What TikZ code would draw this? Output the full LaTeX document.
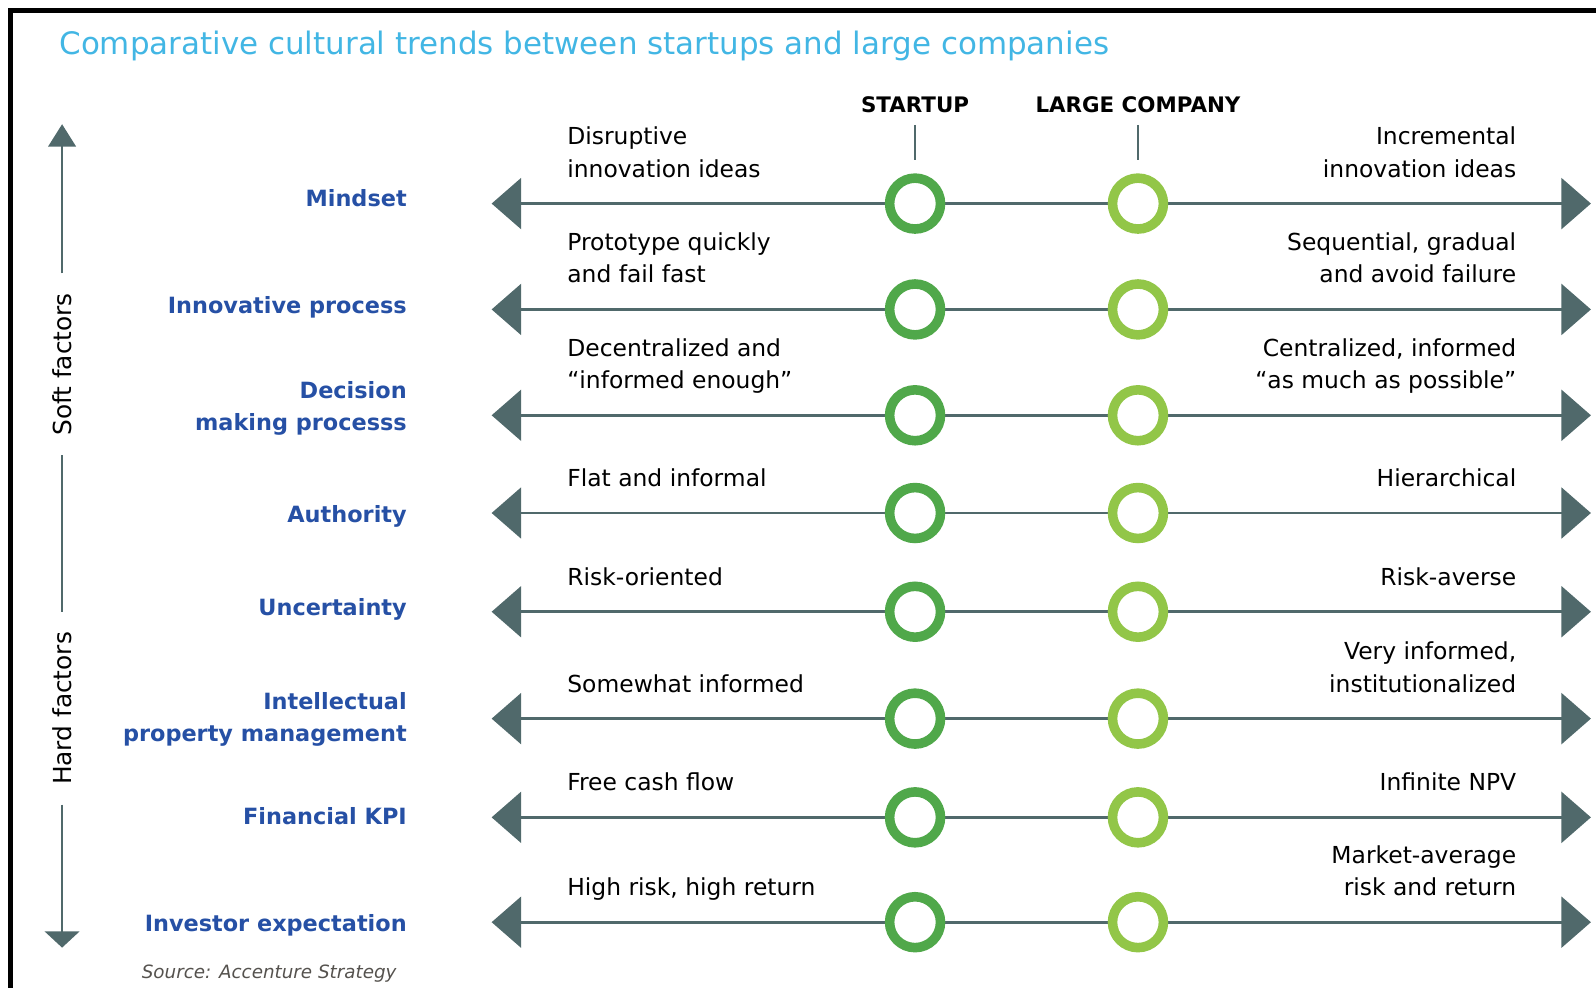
\documentclass[tikz,border=0pt]{standalone}
\usepackage{fontspec}
\setmainfont{DejaVu Sans}[ItalicFont={* Oblique}, BoldItalicFont={* Bold Oblique}]
\usepackage{tikz}
\usetikzlibrary{arrows.meta, positioning}
\definecolor{titleblue}{RGB}{66,182,228}
\definecolor{catblue}{RGB}{38,80,165}
\definecolor{axisgray}{RGB}{80,105,107}
\definecolor{startgreen}{RGB}{80,168,74}
\definecolor{largegreen}{RGB}{146,198,72}
\definecolor{sourcegray}{RGB}{85,82,78}
\tikzstyle{frame} = [draw=black, line width=2.5pt, line join=miter]
\tikzstyle{titletext} = [anchor=base west, inner sep=0pt, text=titleblue, font=\fontsize{15.2}{18}\selectfont]
\tikzstyle{header} = [anchor=base, inner sep=0pt, font=\bfseries\fontsize{10.5}{13}\selectfont]
\tikzstyle{tick} = [draw=axisgray, line width=1pt, shorten <=5.5pt, shorten >=6.5pt]
\tikzstyle{category} = [align=right, inner sep=0pt, text=catblue, font=\bfseries\fontsize{11}{15.5}\selectfont]
\tikzstyle{lefttext} = [anchor=south west, align=left, inner sep=0pt, font=\fontsize{11.5}{16}\selectfont, execute at end node=\strut]
\tikzstyle{righttext} = [anchor=south east, align=right, inner sep=0pt, font=\fontsize{11.5}{16}\selectfont, execute at end node=\strut]
\tikzstyle{trend} = [draw=axisgray, line width=1.3pt, {Triangle[length=14.5pt,width=25pt]}-{Triangle[length=14.5pt,width=25pt]}]
\tikzstyle{startupdot} = [circle, draw=startgreen, fill=white, line width=4.7pt, minimum size=25pt, inner sep=0pt]
\tikzstyle{largedot} = [circle, draw=largegreen, fill=white, line width=4.7pt, minimum size=25pt, inner sep=0pt]
\tikzstyle{factor} = [rotate=90, inner xsep=9.5pt, inner ysep=0pt, font=\fontsize{12.2}{14}\selectfont]
\tikzstyle{axis} = [draw=axisgray, line width=1.2pt]
\tikzstyle{source} = [anchor=base east, inner sep=0pt, text=sourcegray, font=\itshape\fontsize{9}{11}\selectfont]

\begin{document}
\begin{tikzpicture}[x=0.5pt, y=-0.5pt]
	\useasboundingbox (0,0) rectangle (1568,970);
	\draw[frame] (10,975) -- (10,10.5) -- (1575,10.5);
	\node[titletext] (title) at (58,54) {Comparative cultural trends between startups and large companies};

	% column heads
	\node[header] (startup) at (899,111) {STARTUP};
	\node[header] (large) at (1118,111) {LARGE COMPANY};

	% one scale per row
	\foreach \y [count=\i] in {200,304,408,504,601,706,803,906} {
		\coordinate (w\i) at (483,\y);
		\coordinate (e\i) at (1563,\y);
		\draw[trend] (w\i) -- (e\i);
		\node[startupdot] (s\i) at (899,\y) {};
		\node[largedot] (c\i) at (1118,\y) {};
	}
	\draw[tick] (startup) -- (s1);
	\draw[tick] (large) -- (c1);

	% soft / hard axis
	\node[factor] (soft) at (61,358) {Soft factors};
	\node[factor] (hard) at (61,696) {Hard factors};
	\coordinate (softtip) at (61,122);
	\coordinate (hardtip) at (61,931);
	\draw[axis, -{Triangle[length=11pt,width=13.5pt]}] (soft) -- (softtip);
	\draw[axis] (soft) -- (hard);
	\draw[axis, -{Triangle[length=8pt,width=17pt]}] (hard) -- (hardtip);

	% categories
	\node[category, anchor=base east] (mindset) at (400,203) {Mindset};
	\node[category, anchor=base east] (innovation) at (400,308) {Innovative process};
	\node[category, anchor=east] (decision) at (400,401.5) {Decision\\making processs};
	\node[category, anchor=base east] (authority) at (400,513) {Authority};
	\node[category, anchor=base east] (uncertainty) at (400,605) {Uncertainty};
	\node[category, anchor=east] (property) at (400,707) {Intellectual\\property management};
	\node[category, anchor=base east] (kpi) at (400,810) {Financial KPI};
	\node[category, anchor=base east] (investor) at (400,915) {Investor expectation};

	% startup side
	\node[lefttext] (l1) at (557,184) {Disruptive\\innovation ideas};
	\node[lefttext] (l2) at (557,288) {Prototype quickly\\and fail fast};
	\node[lefttext] (l3) at (557,392) {Decentralized and\\“informed enough”};
	\node[lefttext] (l4) at (557,488) {Flat and informal};
	\node[lefttext] (l5) at (557,585) {Risk-oriented};
	\node[lefttext] (l6) at (557,690) {Somewhat informed};
	\node[lefttext] (l7) at (557,787) {Free cash flow};
	\node[lefttext] (l8) at (557,890) {High risk, high return};

	% large company side
	\node[righttext] (r1) at (1490,184) {Incremental\\innovation ideas};
	\node[righttext] (r2) at (1490,288) {Sequential, gradual\\and avoid failure};
	\node[righttext] (r3) at (1490,392) {Centralized, informed\\“as much as possible”};
	\node[righttext] (r4) at (1490,488) {Hierarchical};
	\node[righttext] (r5) at (1490,585) {Risk-averse};
	\node[righttext] (r6) at (1490,690) {Very informed,\\institutionalized};
	\node[righttext] (r7) at (1490,787) {Infinite NPV};
	\node[righttext] (r8) at (1490,890) {Market-average\\risk and return};

	\node[source] (src) at (390,961) {Source: Accenture Strategy};
\end{tikzpicture}
\end{document}
